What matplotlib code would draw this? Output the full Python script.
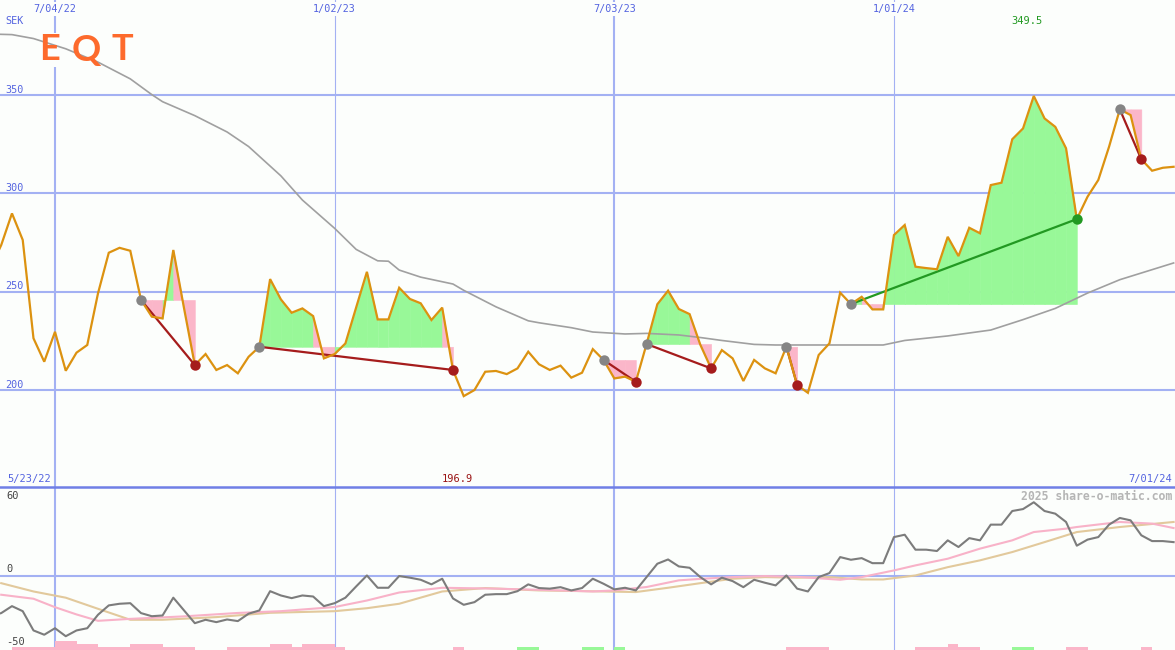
import numpy as np
import pandas as pd
import matplotlib
matplotlib.use('Agg')
import matplotlib.pyplot as plt
import matplotlib.dates as mdates
import matplotlib.transforms as mtrans
from matplotlib.patches import Rectangle

# ─── weekly closes (SEK), first week 2022-05-23 ───
price = [262.0, 273.7, 289.8, 276.3, 226.3, 214.4, 229.6, 209.8, 219.0, 222.9,
         249.2, 269.8, 272.3, 270.8, 245.8, 237.3, 236.4, 271.2, 241.5, 212.7,
         218.3, 210.2, 212.7, 208.5, 216.9, 222.0, 256.4, 246.1, 239.3, 241.5,
         237.6, 216.1, 218.3, 223.7, 242.0, 260.1, 235.9, 235.9, 252.0, 246.3,
         244.1, 235.6, 241.9, 210.2, 196.9, 200.0, 209.3, 209.7, 208.1, 211.0,
         219.5, 213.1, 210.2, 212.4, 206.3, 208.8, 220.8, 215.3, 205.9, 206.8,
         204.2, 223.4, 243.6, 250.5, 241.2, 238.6, 223.0, 211.0, 220.3, 216.1,
         204.6, 215.3, 211.0, 208.5, 222.0, 202.5, 198.6, 217.8, 223.7, 249.5,
         243.7, 247.4, 241.0, 241.0, 278.8, 283.9, 262.7, 262.0, 261.4, 277.9,
         268.1, 282.5, 279.7, 304.2, 305.4, 327.5, 333.0, 349.5, 338.1, 333.8,
         322.9, 286.9, 298.3, 306.8, 323.7, 342.7, 339.8, 317.3, 311.5, 313.0,
         313.5]
start = pd.Timestamp('2022-05-23')
weeks = pd.date_range(start, periods=len(price), freq='7D')

# long moving average (grey), sampled at a few weeks
ma_wk = [0, 2, 4, 7, 10, 13, 15, 16, 19, 22, 24, 27, 29, 32, 34, 36, 37, 38, 40,
         43, 44, 47, 50, 51, 54, 56, 59, 61, 64, 66, 68, 71, 73, 75, 83, 85, 89,
         93, 96, 99, 102, 105, 110]
ma_val = [381.0, 380.7, 378.7, 373.5, 366.7, 358.2, 350.2, 346.6, 339.5, 331.2,
          323.8, 308.9, 296.6, 282.2, 271.5, 265.7, 265.5, 261.0, 257.4, 253.9,
          250.7, 242.3, 235.2, 234.2, 231.7, 229.5, 228.5, 228.8, 228.0, 226.7,
          225.2, 223.2, 222.9, 222.9, 222.9, 225.2, 227.5, 230.5, 235.8, 241.5,
          249.3, 256.1, 264.6]

# lower panel: momentum and its two averages
mom = [-27.0, -25.1, -20.4, -23.8, -36.8, -39.7, -35.3, -40.7, -36.8, -35.3,
       -26.2, -19.9, -18.8, -18.4, -25.1, -27.2, -26.7, -14.7, -23.3, -31.9,
       -29.6, -31.2, -29.4, -30.5, -25.5, -23.3, -10.3, -13.2, -15.0, -13.2,
       -13.9, -20.4, -18.4, -14.7, -7.1, 0.3, -8.0, -8.0, -0.1, -1.2,
       -2.6, -5.7, -1.9, -15.2, -19.5, -17.7, -12.7, -12.3, -12.3, -10.3,
       -5.7, -8.2, -8.6, -7.6, -9.8, -8.2, -1.9, -5.3, -9.1, -8.0,
       -9.8, -0.8, 8.2, 11.1, 6.4, 5.5, -0.8, -5.7, -1.2, -3.5,
       -7.6, -2.6, -4.6, -6.4, 0.3, -8.6, -10.5, -0.8, 1.9, 12.7,
       10.9, 12.0, 8.6, 8.6, 26.2, 27.8, 17.7, 17.7, 16.8, 24.0,
       19.5, 25.5, 24.0, 34.6, 34.6, 43.8, 45.1, 49.7, 43.8, 42.0,
       36.4, 20.4, 24.5, 26.2, 34.6, 39.1, 37.5, 27.4, 23.5, 23.5,
       22.8]
pink_wk = [1, 4, 6, 8, 10, 13, 18, 23, 27, 32, 35, 38, 42, 47, 53, 56, 58, 61,
           64, 66, 69, 72, 75, 79, 81, 84, 86, 89, 92, 95, 97, 100, 101, 105, 108, 110]
pink_val = [-12.7, -15.4, -21.1, -26.0, -30.3, -29.0, -27.3, -25.0, -23.8, -21.0,
            -16.6, -11.2, -8.0, -8.6, -9.8, -10.5, -9.8, -7.5, -3.0, -2.0, -0.8,
            -0.1, -0.6, -2.6, -0.8, 3.7, 7.1, 11.6, 18.4, 24.0, 29.6, 31.9, 33.0,
            36.4, 35.3, 32.3]
tan_wk = [1, 4, 7, 10, 13, 16, 21, 26, 32, 35, 38, 42, 46, 51, 57, 60, 63, 66,
          69, 72, 75, 78, 81, 83, 86, 89, 92, 95, 98, 101, 105, 110]
tan_val = [-4.9, -10.5, -14.7, -22.2, -29.6, -29.6, -27.8, -24.9, -23.8, -21.8,
           -18.8, -10.5, -8.2, -9.8, -10.5, -10.9, -8.0, -4.9, -1.9, -0.8, -1.2,
           -0.8, -2.4, -2.4, 0.3, 5.9, 10.5, 16.1, 22.8, 29.6, 33.0, 36.4]

# signal strip at the bottom (+ green, - pink)
bar_level = [0, 0, -1, -1, -1, -1, -3, -3, -2, -2,
             -1, -1, -1, -2, -2, -2, -1, -1, -1, 0,
             0, 0, -1, -1, -1, -1, -2, -2, -1, -2,
             -2, -2, -1, 0, 0, 0, 0, 0, 0, 0,
             0, 0, 0, -1, 0, 0, 0, 0, 0, 1,
             1, 0, 0, 0, 0, 1, 1, 0, 1, 0,
             0, 0, 0, 0, 0, 0, 0, 0, 0, 0,
             0, 0, 0, 0, -1, -1, -1, -1, 0, 0,
             0, 0, 0, 0, 0, 0, -1, -1, -1, -2,
             -1, -1, 0, 0, 0, 1, 1, 0, 0, 0,
             -1, -1, 0, 0, 0, 0, 0, -1, 0, 0,
             0]

# trades: entry week / exit week
trade_in = [14, 25, 57, 61, 74, 80, 105]
trade_out = [19, 43, 60, 67, 75, 101, 107]

grid_dates = ['2022-07-04', '2023-01-02', '2023-07-03', '2024-01-01']
grid_labels = ['7/04/22', '1/02/23', '7/03/23', '1/01/24']
grid_lw = [1.5, 0.8, 1.5, 0.8]
price_ticks = [200, 250, 300, 350]

# ─── colours ───
BG = '#fcfefc'
GRID = '#a3b1f3'
LBL = '#5464e0'
ORANGE = '#dc9210'
GREEN_FILL = '#98f898'
PINK_FILL = '#fbb6c9'
LOSS = '#a51c1c'
GAIN = '#229922'

W, H = 1175, 650
fig = plt.figure(figsize=(W / 100, H / 100), dpi=100, facecolor=BG)
split = 163 / H
ax = fig.add_axes([0, split, 1, 1 - split])
ax2 = fig.add_axes([0, 0, 1, split])

t0 = mdates.date2num(start)
xlim = (t0 + 0.887 * 7, t0 + 110.13 * 7)
for a in (ax, ax2):
    a.set_facecolor(BG)
    a.set_xlim(*xlim)
    for s in a.spines.values():
        s.set_visible(False)
    a.set_xticks([])
    a.set_yticks([])
ax.set_ylim(150.7, 398.3)
ax2.set_ylim(-50, 60)

x = mdates.date2num(weeks)
price_a = np.array(price)

# ─── grid ───
for p in price_ticks:
    ax.axhline(p, color=GRID, lw=1.5, zorder=1)
    ax.text(t0 + 1.4 * 7, p + 1.2, str(p), color=LBL, fontsize=7.3,
            family='DejaVu Sans Mono', va='baseline', ha='left', zorder=6)
ax2.axhline(0, color=GRID, lw=1.5, zorder=1)
for d, lab, lw in zip(grid_dates, grid_labels, grid_lw):
    dn = mdates.date2num(pd.Timestamp(d))
    ax.axvline(dn, color=GRID, lw=lw, zorder=1)
    ax2.axvline(dn, color=GRID, lw=lw, zorder=1)
    ax.text(dn, 1 - 9 / 487, lab, transform=ax.get_xaxis_transform(),
            color=LBL, fontsize=7.3, family='DejaVu Sans Mono', ha='center',
            va='center', zorder=6,
            bbox=dict(facecolor=BG, edgecolor='none', pad=1.5))
ax2.axhline(60, color='#6f7fe6', lw=1.8, zorder=6, clip_on=False)

# ─── logo ───
ax.add_patch(Rectangle((33 / W, 1 - 67 / H), 105 / W, 34 / H,
                       transform=fig.transFigure, facecolor=BG,
                       edgecolor='none', zorder=1.5))
for ch, cx in zip('EQT', [49, 86, 122.5]):
    fig.text(cx / W, 1 - 50 / H, ch, color='#fd6a2c', fontsize=26,
             family='Lato', fontweight='bold', ha='center', va='center',
             zorder=2)

ax.text(5 / W, 1 - 21 / H, 'SEK', transform=fig.transFigure, color=LBL,
        fontsize=7.3, family='DejaVu Sans Mono', va='center', ha='left')

# ─── trade shading ───
for a_i, b_i in zip(trade_in, trade_out):
    ref = price[a_i]
    for k in range(a_i, b_i):
        col = GREEN_FILL if price[k + 1] >= ref else PINK_FILL
        ax.fill_between(x[k:k + 2], price_a[k:k + 2], ref, color=col,
                        lw=0.4, edgecolor=col, zorder=2)

ax.plot(mdates.date2num(weeks[ma_wk]), ma_val, color='#a0a0a0', lw=1.2,
        zorder=2.5)

for a_i, b_i in zip(trade_in, trade_out):
    col = GAIN if price[b_i] > price[a_i] else LOSS
    ax.plot([x[a_i], x[b_i]], [price[a_i], price[b_i]], color=col, lw=1.6,
            zorder=3)

ax.plot(x, price, color=ORANGE, lw=1.6, zorder=3.5, solid_joinstyle='miter')

for a_i, b_i in zip(trade_in, trade_out):
    col = GAIN if price[b_i] > price[a_i] else LOSS
    ax.plot(x[a_i], price[a_i], 'o', color='#858585', ms=7.5, mew=0, zorder=4)
    ax.plot(x[b_i], price[b_i], 'o', color=col, ms=7.5, mew=0, zorder=4)

# high / low labels
hi = int(np.argmax(price_a))
lo = int(np.argmin(price_a))
blend = mtrans.blended_transform_factory(ax.transData, fig.transFigure)
ax.text(x[hi] - 0.6 * 7, 1 - 21 / H, f'{price[hi]:.1f}', transform=blend,
        color=GAIN, fontsize=7.5, family='DejaVu Sans Mono', ha='center',
        va='center')
ax.text(x[lo] - 0.6 * 7, 1 - 479 / H, f'{price[lo]:.1f}', transform=blend,
        color='#9a1414', fontsize=7.5, family='DejaVu Sans Mono', ha='center',
        va='center')
ax.text(7 / W, 1 - 479 / H, '5/23/22', transform=fig.transFigure, color=LBL,
        fontsize=7.5, family='DejaVu Sans Mono', ha='left', va='center')
ax.text(1172 / W, 1 - 479 / H, '7/01/24', transform=fig.transFigure,
        color=LBL, fontsize=7.5, family='DejaVu Sans Mono', ha='right',
        va='center')

# ─── lower panel ───
lev = np.array(bar_level)
ax2.bar(x[lev < 0], -lev[lev < 0] * 2.0, bottom=-50, width=7, align='edge',
        color=PINK_FILL, zorder=2)
ax2.bar(x[lev > 0], lev[lev > 0] * 2.0, bottom=-50, width=7, align='edge',
        color=GREEN_FILL, zorder=2)
ax2.plot(mdates.date2num(weeks[tan_wk]), tan_val, color='#e2c99c', lw=1.5,
         zorder=3)
ax2.plot(mdates.date2num(weeks[pink_wk]), pink_val, color='#f8b2c8', lw=1.5,
         zorder=3)
ax2.plot(x, mom, color='#7c7c7c', lw=1.5, zorder=4)

for val, py in [('60', 496), ('0', 569.5), ('-50', 642)]:
    ax2.text(6 / W, 1 - py / H, val, transform=fig.transFigure,
             color='#444444', fontsize=7.5, family='DejaVu Sans Mono',
             ha='left', va='center', zorder=6)
ax2.text(1172 / W, 1 - 496 / H, '2025 share-o-matic.com',
         transform=fig.transFigure, color='#b5b5b5', fontsize=8.3,
         family='DejaVu Sans Mono', fontweight='bold', ha='right',
         va='center', zorder=6)

fig.savefig('out.png', dpi=100, facecolor=BG)
